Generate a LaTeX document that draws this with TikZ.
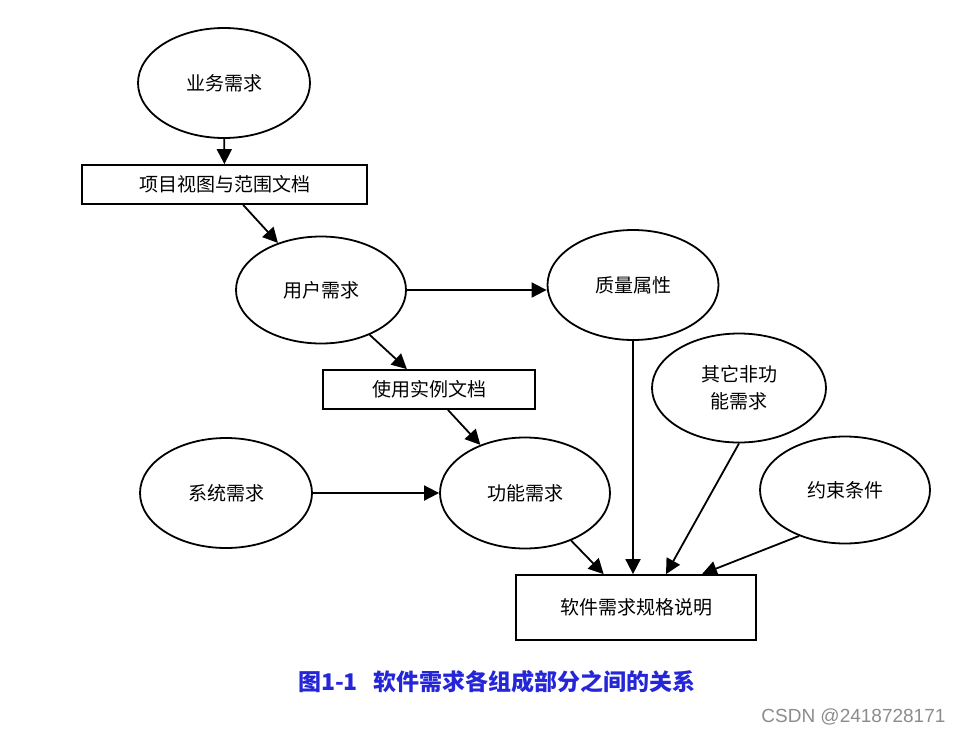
\documentclass[tikz,border=0pt]{standalone}
\usepackage{fontspec}
\usepackage{xcolor}
\usepackage{tikz}
\usetikzlibrary{shapes.geometric, arrows.meta, positioning}
\newfontfamily\cjk{Noto Sans CJK SC}
\newfontfamily\wmfont{Liberation Sans}
\definecolor{captionblue}{rgb}{0.15,0.15,0.85}
\definecolor{markgray}{rgb}{0.55,0.55,0.55}

\begin{document}
\begin{tikzpicture}[x=1pt, y=-1pt,
    oval/.style={ellipse, draw, line width=1.8pt, minimum width=172pt, minimum height=110pt, inner sep=0pt, align=center, font=\cjk\fontsize{19}{27}\selectfont},
    box/.style={rectangle, draw, line width=1.8pt, inner sep=0pt, align=center, font=\cjk\fontsize{19}{22}\selectfont},
    arrow/.style={-{Triangle[length=15pt,width=15pt]}, line width=1.8pt}
]
\useasboundingbox (0,0) rectangle (965,734);

\node[oval] (business) at (224,83) {业务需求};
\node[box, minimum width=285pt, minimum height=39pt] (vision) at (224.5,184.5) {项目视图与范围文档};
\node[oval, minimum width=170pt, minimum height=107pt] (user) at (321,290) {用户需求};
\node[oval, minimum width=171pt] (quality) at (633,285) {质量属性};
\node[box, minimum width=212pt, minimum height=39pt] (usecase) at (429,389.5) {使用实例文档};
\node[oval] (system) at (226,493) {系统需求};
\node[oval, minimum width=170pt, minimum height=111pt] (func) at (525,493) {功能需求};
\node[oval, minimum width=174pt, minimum height=109pt] (other) at (739,388) {其它非功\\能需求};
\node[oval, minimum width=170pt, minimum height=107pt] (constraint) at (845,490) {约束条件};
\node[box, minimum width=240pt, minimum height=65pt] (srs) at (636,607.5) {软件需求规格说明};

\draw[arrow] (business) -- (vision);
\draw[arrow] (vision) -- (user);
\draw[arrow] (user.east) -- (user.east -| quality.west);
\draw[arrow] (user) -- (usecase);
\draw[arrow] (usecase) -- (func);
\draw[arrow] (system) -- (func);
\draw[arrow] (func) -- (srs);
\draw[arrow] (quality) -- (quality |- srs.north);
\draw[arrow] (other.south) -- ([xshift=30pt]srs.north);
\draw[arrow] (constraint.225) -- ([xshift=66pt]srs.north);

% caption and watermark
\node[font=\cjk\bfseries\fontsize{23}{26}\selectfont, text=captionblue] (caption) at (497,682) {图1-1\hspace{16pt}软件需求各组成部分之间的关系};
\node[font=\wmfont\fontsize{19}{22}\selectfont, text=markgray, anchor=east] (mark) at (949,717) {CSDN @2418728171};

\end{tikzpicture}
\end{document}
